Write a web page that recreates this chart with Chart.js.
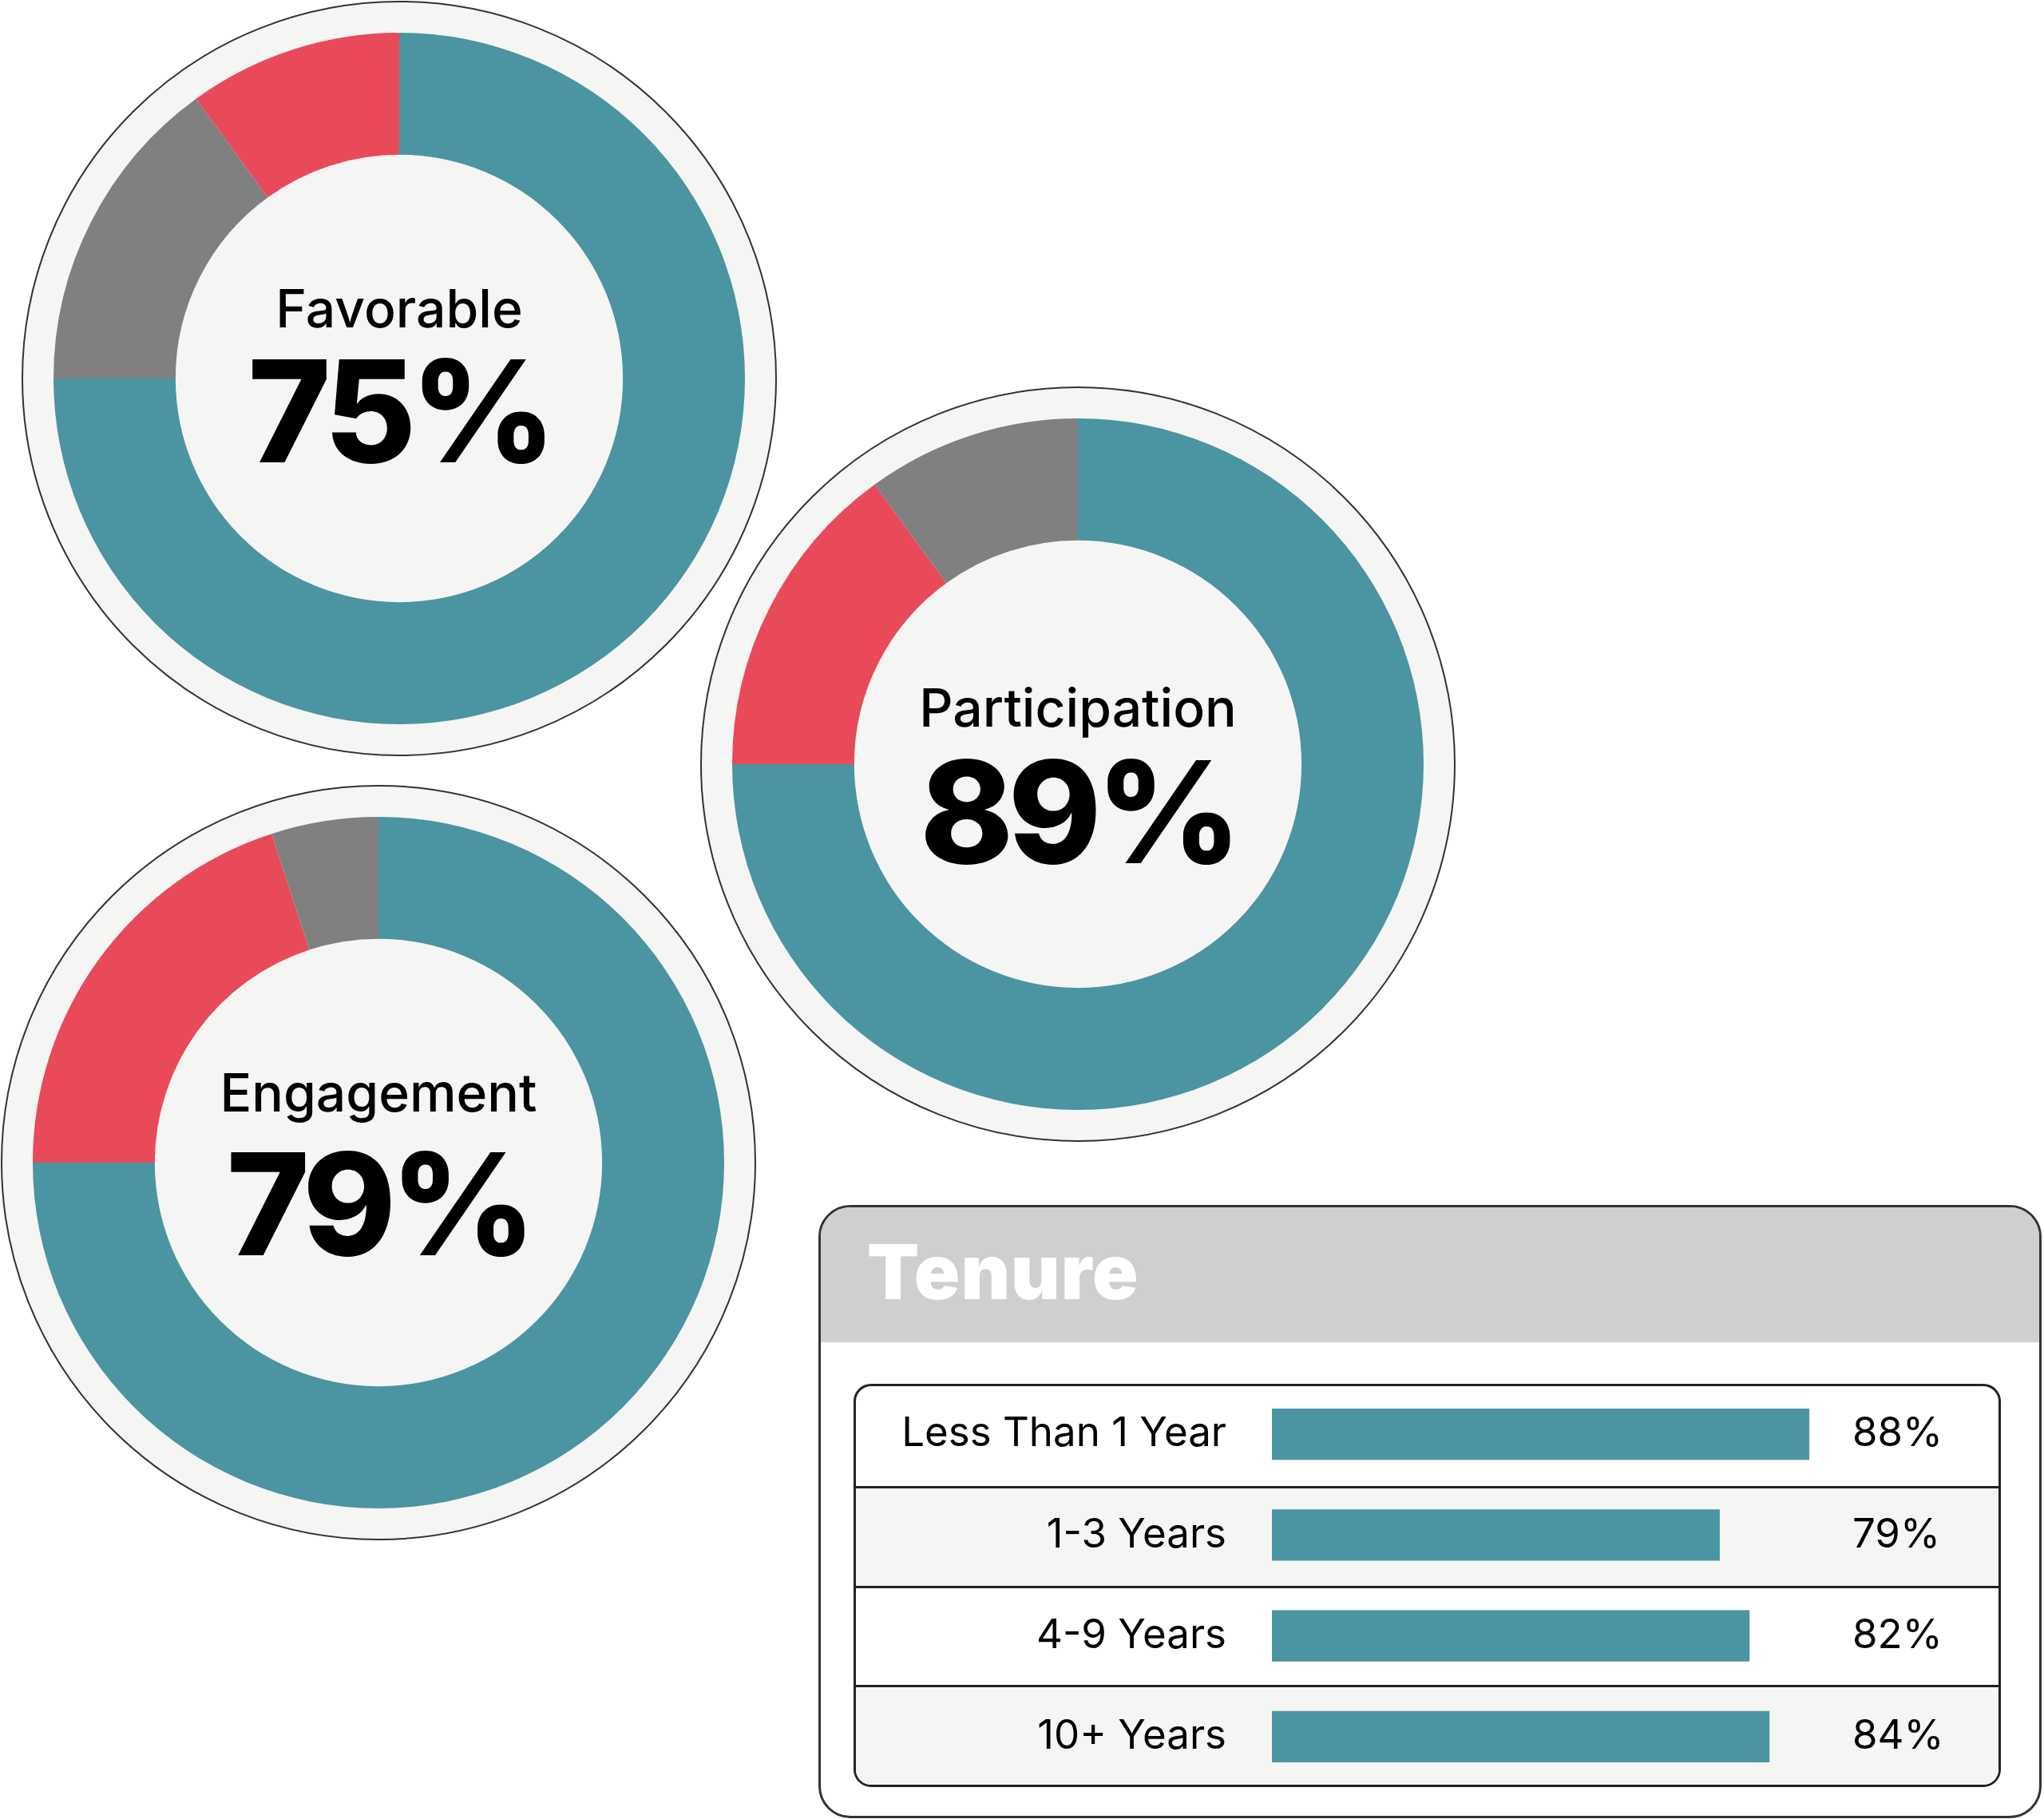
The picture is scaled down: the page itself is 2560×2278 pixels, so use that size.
<!DOCTYPE html>
<html>
<head>
<meta charset="utf-8">
<script src="https://cdn.jsdelivr.net/npm/chart.js@4.4.1/dist/chart.umd.min.js"></script>
<style>
  html, body { margin: 0; padding: 0; background: #fff; }
  body { width: 2560px; height: 2278px; position: relative; overflow: hidden; font-family: Inter, "Noto Sans", sans-serif; }
  .ring { position: absolute; width: 946px; height: 946px; box-sizing: border-box; border: 2px solid #333; border-radius: 50%; background: #f5f5f3; }
  .donut { position: absolute; }
  .title, .big { position: absolute; width: 700px; text-align: center; line-height: 1; color: #000; white-space: nowrap; }
  .title { font-size: 66px; font-weight: 500; }
  .big { font-size: 177px; font-weight: 800; letter-spacing: -7px; }
  #panel { position: absolute; left: 1025px; top: 1509px; width: 1532px; height: 768px; box-sizing: border-box; border: 3px solid #333; border-radius: 40px; overflow: hidden; background: #fff; }
  #head { position: absolute; left: 0; top: 0; right: 0; height: 169px; background: #cfcfcf; }
  #tenure { position: absolute; left: 58px; top: 33px; font-size: 95px; font-weight: 900; color: #fff; line-height: 1; letter-spacing: 1px; }
  #table { position: absolute; left: 1069px; top: 1733px; width: 1437px; height: 505px; box-sizing: border-box; border: 3px solid #222; border-radius: 22px; overflow: hidden; }
  .row { height: 124.75px; box-sizing: border-box; }
  .row + .row { border-top: 3px solid #222; }
  .alt { background: #f5f5f3; }
  #bars { position: absolute; left: 1069px; top: 1733px; }
</style>
</head>
<body>

<div class="ring" style="left:27px; top:1px;"></div>
<div class="ring" style="left:877px; top:484px;"></div>
<div class="ring" style="left:1px; top:983px;"></div>

<canvas id="d0" class="donut" width="866" height="866" style="left:67px; top:41px;"></canvas>
<canvas id="d1" class="donut" width="866" height="866" style="left:917px; top:524px;"></canvas>
<canvas id="d2" class="donut" width="866" height="866" style="left:41px; top:1023px;"></canvas>

<div id="labels"></div>

<div id="panel">
  <div id="head"><div id="tenure">Tenure</div></div>
</div>
<div id="table">
  <div class="row"></div>
  <div class="row alt"></div>
  <div class="row"></div>
  <div class="row alt"></div>
</div>
<canvas id="bars" width="1437" height="505"></canvas>

<script>
var teal = "#4b94a1";
var red = "#e84a5a";
var grey = "#808080";

// donut summaries
var donutTitles = ["Favorable", "Participation", "Engagement"];
var donutScores = ["75%", "89%", "79%"];
var favorableSplit = [75, 15, 10];
var participationSplit = [75, 15, 10];
var engagementSplit = [75, 20, 5];
var favorableColors = [teal, grey, red];
var participationColors = [teal, red, grey];
var engagementColors = [teal, red, grey];

// tenure breakdown
var tenureLabels = ["Less Than 1 Year", "1-3 Years", "4-9 Years", "10+ Years"];
var tenureValues = [88, 79, 82, 84];
var tenurePct = ["88%", "79%", "82%", "84%"];

// centre and text baselines for each donut (page px)
var centers = [[500, 474], [1350, 957], [474, 1456]];
var titleBase = [-64, -47, -64];
var bigBase = [106, 125, 117];

function donut(id, values, colors)
{
  new Chart(document.getElementById(id), {
    type: "doughnut",
    data: {
      labels: values.map(function (v, i) { return "s" + i; }),
      datasets: [{
        data: values,
        backgroundColor: colors,
        borderWidth: 0
      }]
    },
    options: {
      responsive: false,
      devicePixelRatio: 1,
      animation: false,
      cutout: "64.7%",
      layout: { padding: 0 },
      plugins: { legend: { display: false }, tooltip: { enabled: false } }
    }
  });
}

donut("d0", favorableSplit, favorableColors);
donut("d1", participationSplit, participationColors);
donut("d2", engagementSplit, engagementColors);

var holder = document.getElementById("labels");
for (var i = 0; i < 3; i++) {
  var t = document.createElement("div");
  t.className = "title";
  t.textContent = donutTitles[i];
  t.style.left = (centers[i][0] - 350) + "px";
  t.style.top = (centers[i][1] + titleBase[i] - 0.864 * 66) + "px";
  holder.appendChild(t);

  var b = document.createElement("div");
  b.className = "big";
  b.textContent = donutScores[i];
  b.style.left = (centers[i][0] - 350) + "px";
  b.style.top = (centers[i][1] + bigBase[i] - 0.864 * 177) + "px";
  holder.appendChild(b);
}

var labelFont = { family: "Inter", size: 51, weight: "400" };

// keep the label columns from adding vertical padding to the plot
function fixWidth(w)
{
  return function (scale) {
    scale.width = w;
    scale.paddingTop = 0;
    scale.paddingBottom = 0;
  };
}

new Chart(document.getElementById("bars"), {
  type: "bar",
  data: {
    labels: tenureLabels,
    datasets: [{
      data: tenureValues,
      backgroundColor: teal,
      borderWidth: 0,
      categoryPercentage: 1,
      barPercentage: 0.51
    }]
  },
  options: {
    indexAxis: "y",
    responsive: false,
    devicePixelRatio: 1,
    animation: false,
    layout: { padding: 0 },
    plugins: { legend: { display: false }, tooltip: { enabled: false } },
    scales: {
      x: { display: false, min: 34, max: 90 },
      y: {
        position: "left",
        grid: { display: false, drawTicks: false },
        border: { display: false },
        ticks: { color: "#000", font: labelFont, padding: 57, autoSkip: false },
        afterFit: fixWidth(524)
      },
      y2: {
        type: "category",
        labels: tenurePct,
        position: "right",
        offset: true,
        grid: { display: false, drawTicks: false },
        border: { display: false },
        ticks: { color: "#000", font: labelFont, padding: 29, autoSkip: false },
        afterFit: fixWidth(215)
      }
    }
  }
});
</script>
</body>
</html>
